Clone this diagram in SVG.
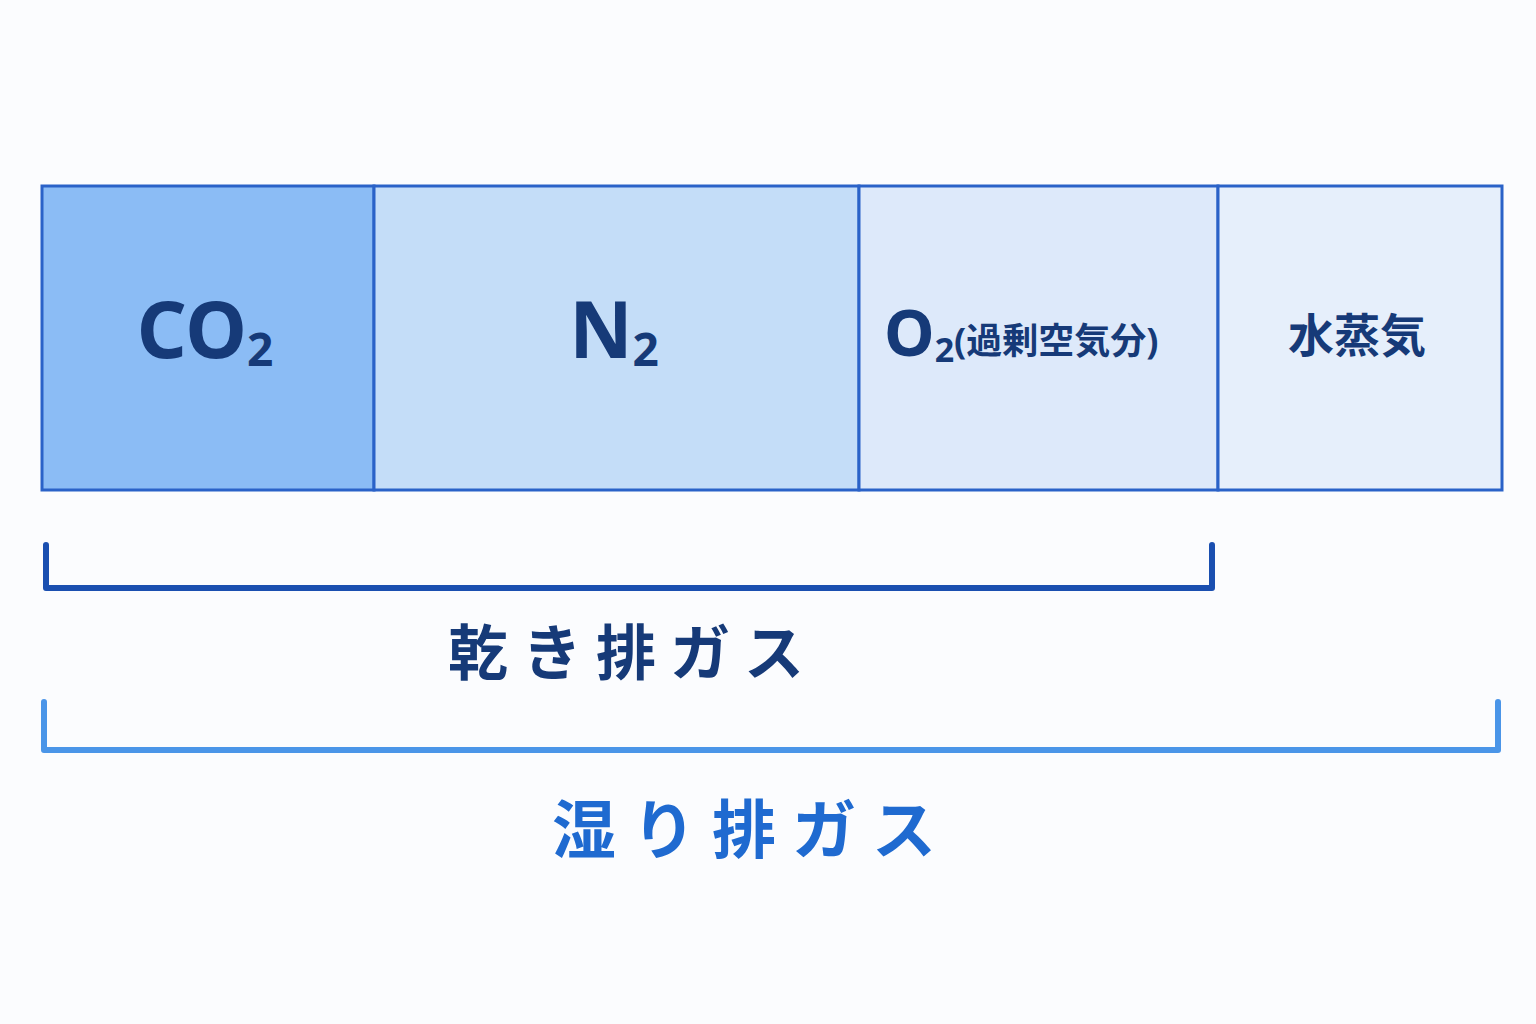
<svg xmlns="http://www.w3.org/2000/svg" width="1536" height="1024" viewBox="0 0 1536 1024">
<style>
.t{font-family:"Noto Sans","Noto Sans CJK JP",sans-serif;font-weight:bold;fill:#163a78}
.b{fill:none;stroke-linecap:round;stroke-linejoin:round;stroke-width:6}
.c{stroke:#2a62c8;stroke-width:3}
</style>
<rect width="1536" height="1024" fill="#fbfcfe"/>
<g id="co2"><rect class="c" x="42" y="186" width="332" height="304" fill="#8bbcf5"/><text class="t" x="205" y="358" font-size="78" text-anchor="middle">CO<tspan font-size="46" dy="8">2</tspan></text></g>
<g id="n2"><rect class="c" x="374" y="186" width="485" height="304" fill="#c4ddf8"/><text class="t" x="614" y="358" font-size="78" text-anchor="middle">N<tspan font-size="46" dy="8">2</tspan></text></g>
<g id="o2"><rect class="c" x="859" y="186" width="359" height="304" fill="#dde9fa"/><text class="t" x="884" y="356" font-size="64">O<tspan font-size="34" dy="6">2</tspan><tspan font-size="36" dy="-8">(過剰空気分)</tspan></text></g>
<g id="h2o"><rect class="c" x="1218" y="186" width="284" height="304" fill="#e6effb"/><text class="t" x="1357" y="352" font-size="46" text-anchor="middle">水蒸気</text></g>
<g id="connectors">
<path class="b" d="M46 545V588H1212V545" stroke="#1a4fb0"/>
<path class="b" d="M44 702V750H1498V702" stroke="#4a95e8"/>
</g>
<g id="dry"><text class="t" x="633" y="675" font-size="60" text-anchor="middle" letter-spacing="14">乾き排ガス</text></g>
<g id="wet"><text class="t" x="752" y="853" font-size="64" text-anchor="middle" letter-spacing="16" style="fill:#1f6ad0">湿り排ガス</text></g>
</svg>
